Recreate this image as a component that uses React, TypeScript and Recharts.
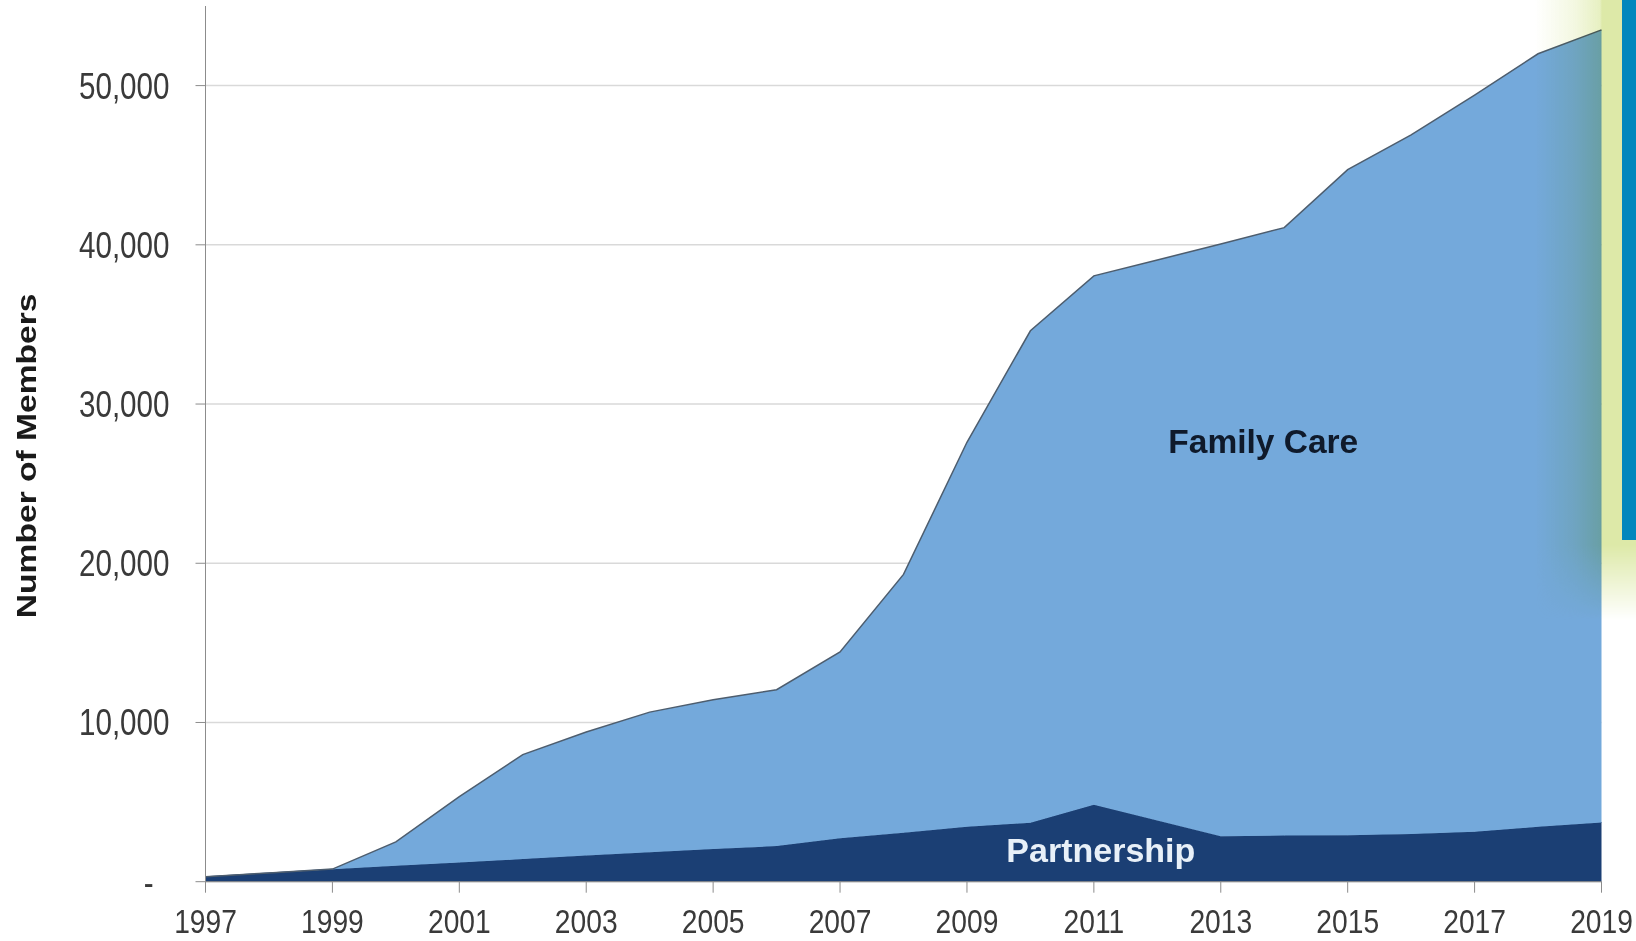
import React from "react";
import {
  AreaChart,
  Area,
  XAxis,
  YAxis,
  CartesianGrid,
  ReferenceDot,
} from "recharts";

const years = [
  1997, 1998, 1999, 2000, 2001, 2002, 2003, 2004, 2005, 2006, 2007, 2008,
  2009, 2010, 2011, 2012, 2013, 2014, 2015, 2016, 2017, 2018, 2019,
];

const partnership = [
  310, 550, 780, 1000, 1200, 1420, 1650, 1850, 2050, 2240, 2730, 3080, 3450,
  3700, 4830, 3850, 2860, 2900, 2920, 3000, 3130, 3450, 3720,
];

const familyCare = [
  0, 0, 10, 1500, 4150, 6560, 7750, 8800, 9380, 9820, 11700, 16220, 24150,
  30900, 33220, 35200, 37190, 38180, 41800, 43900, 46270, 48550, 49780,
];

const xTicks = [1997, 1999, 2001, 2003, 2005, 2007, 2009, 2011, 2013, 2015, 2017, 2019];
const yTicks = [0, 10000, 20000, 30000, 40000, 50000];

const data = years.map((year, i) => ({
  year,
  partnership: partnership[i],
  familyCare: familyCare[i],
}));

const FONT = '"Liberation Sans", Arial, sans-serif';

const YTick = (props: any) => {
  const { x, y, payload } = props;
  const zero = payload.value === 0;
  return (
    <g transform={`translate(${x + (zero ? -42 : -26)},${y})`}>
      <text
        transform="scale(0.8,1)"
        textAnchor="end"
        dy={13}
        fontSize={37}
        fontFamily={FONT}
        fill="#3a3a3a"
      >
        {zero ? "-" : payload.value.toLocaleString("en-US")}
      </text>
    </g>
  );
};

const XTick = (props: any) => {
  const { x, y, payload } = props;
  return (
    <g transform={`translate(${x},${y})`}>
      <text
        transform="scale(0.83,1)"
        textAnchor="middle"
        dy={40}
        fontSize={34}
        fontFamily={FONT}
        fill="#3a3a3a"
      >
        {payload.value}
      </text>
    </g>
  );
};

const AxisTitle = (props: any) => {
  const { viewBox } = props;
  const cy = viewBox.y + viewBox.height / 2 + 12;
  return (
    <text
      transform={`translate(36,${cy}) rotate(-90) scale(1.2,1)`}
      textAnchor="middle"
      fontSize={28}
      fontWeight="bold"
      fontFamily={FONT}
      fill="#1a1a1a"
    >
      Number of Members
    </text>
  );
};

const areaLabel = (text: string, color: string, size: number) => (props: any) =>
  (
    <text
      x={props.cx}
      y={props.cy}
      textAnchor="middle"
      fontSize={size}
      fontWeight="bold"
      fontFamily={FONT}
      fill={color}
    >
      {text}
    </text>
  );

export default function App() {
  return (
    <div
      style={{
        position: "absolute",
        left: 0,
        top: 0,
        width: 1636,
        height: 941,
        background: "#ffffff",
        overflow: "hidden",
      }}
    >
      <AreaChart
        width={1636}
        height={941}
        data={data}
        margin={{ top: 6, right: 34.5, bottom: 19.3, left: 55.5 }}
      >
        <CartesianGrid
          vertical={false}
          syncWithTicks
          stroke="#d9d9d9"
          strokeWidth={1.5}
        />
        <XAxis
          dataKey="year"
          type="number"
          domain={[1997, 2019]}
          ticks={xTicks}
          height={40}
          tickSize={11}
          tickMargin={0}
          stroke="#8c8c8c"
          tick={<XTick />}
        />
        <YAxis
          domain={[0, 55000]}
          ticks={yTicks}
          width={150}
          tickSize={10}
          tickMargin={0}
          stroke="#8c8c8c"
          tick={<YTick />}
          label={{ content: <AxisTitle /> }}
        />
        <Area
          type="linear"
          dataKey="partnership"
          stackId="1"
          fill="#1b3f74"
          fillOpacity={1}
          stroke="#1b3f74"
          strokeWidth={1}
          isAnimationActive={false}
        />
        <Area
          type="linear"
          dataKey="familyCare"
          stackId="1"
          fill="#74a9db"
          fillOpacity={1}
          stroke="#4d5d6e"
          strokeWidth={1.5}
          isAnimationActive={false}
        />
        <ReferenceDot
          x={2013.67}
          y={26930}
          r={0}
          shape={areaLabel("Family Care", "#0f1a2b", 33.5)}
        />
        <ReferenceDot
          x={2011.11}
          y={1240}
          r={0}
          shape={areaLabel("Partnership", "#e8f0f8", 34)}
        />
      </AreaChart>
      <div
        style={{
          position: "absolute",
          left: 1535,
          top: 0,
          width: 101,
          height: 630,
          background:
            "linear-gradient(to right, rgba(221,234,168,0) 0px, rgba(221,234,168,0.35) 40px, rgba(221,234,168,0.7) 65px, #dde9a8 67px, #dde9a8 100%)",
          mixBlendMode: "multiply",
          WebkitMaskImage:
            "linear-gradient(to bottom, #000 0px, #000 545px, transparent 620px)",
          maskImage:
            "linear-gradient(to bottom, #000 0px, #000 545px, transparent 620px)",
          pointerEvents: "none",
        }}
      />
      <div
        style={{
          position: "absolute",
          left: 1622,
          top: 0,
          width: 14,
          height: 540,
          background: "#0087bd",
        }}
      />
    </div>
  );
}
